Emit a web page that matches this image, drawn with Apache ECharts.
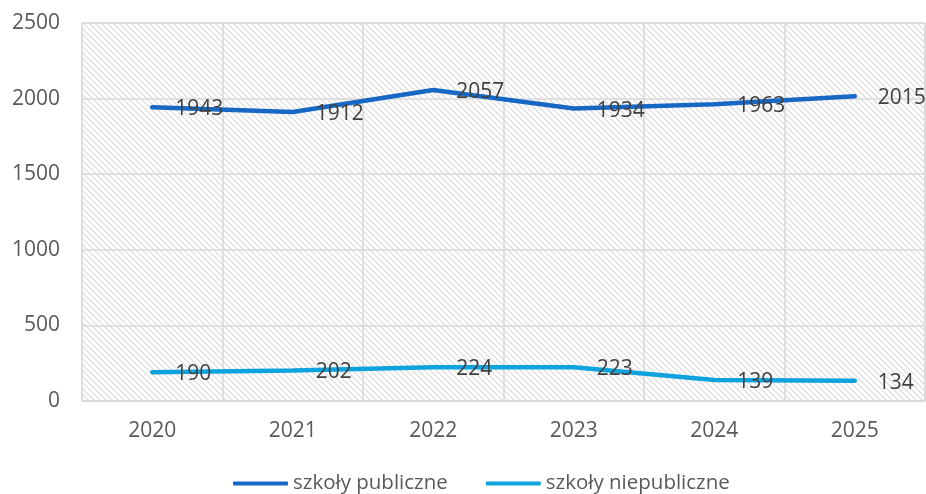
<!DOCTYPE html>
<html><head><meta charset="utf-8">
<script src="https://cdn.jsdelivr.net/npm/echarts@6/dist/echarts.min.js"></script>
<style>html,body{margin:0;padding:0;background:#fff}#c{width:926px;height:494px}</style>
</head><body><div id="c"></div>
<script>
const categories = ['2020','2021','2022','2023','2024','2025'];
const publicSchools = [1943,1912,2057,1934,1963,2015];
const nonPublicSchools = [190,202,224,223,139,134];
const seriesNames = ['szkoły publiczne','szkoły niepubliczne'];

const pc = document.createElement('canvas');
pc.width = 6; pc.height = 6;
const g = pc.getContext('2d');
g.fillStyle = '#ffffff'; g.fillRect(0,0,6,6);
g.strokeStyle = '#d9d9d9'; g.lineWidth = 1.1;
g.beginPath();
g.moveTo(-1,-1); g.lineTo(7,7);
g.moveTo(-1,5); g.lineTo(1,7);
g.moveTo(5,-1); g.lineTo(7,1);
g.stroke();

const FF = 'Open Sans';
const chart = echarts.init(document.getElementById('c'));
const lbl = {show:true, position:'right', distance:23, offset:[0,2], color:'#404040', fontSize:21, fontFamily:FF};
chart.setOption({
  animation:false,
  grid:{left:82,right:1,top:23,bottom:93,show:true,backgroundColor:{image:pc,repeat:'repeat'},borderColor:'#d9d9d9',borderWidth:1},
  xAxis:{type:'category',data:categories,boundaryGap:true,
    axisLine:{lineStyle:{color:'#d9d9d9',width:1.5}},axisTick:{show:false},
    axisLabel:{color:'#595959',fontSize:21,fontFamily:FF,margin:20},
    splitLine:{show:true,lineStyle:{color:'#d9d9d9',width:1.5}}},
  yAxis:{type:'value',min:0,max:2500,interval:500,
    axisLine:{show:false},axisTick:{show:false},
    axisLabel:{color:'#595959',fontSize:21,fontFamily:FF,margin:22,formatter:v=>String(v)},
    splitLine:{lineStyle:{color:'#d9d9d9',width:1.5}}},
  legend:{bottom:-5,left:228,itemWidth:55,itemHeight:4,itemGap:38,
    textStyle:{color:'#595959',fontSize:20.5,fontFamily:FF},
    data:[{name:seriesNames[0],icon:'roundRect'},{name:seriesNames[1],icon:'roundRect'}]},
  series:[
    {name:seriesNames[0],type:'line',data:publicSchools,showSymbol:true,symbol:'circle',symbolSize:0.01,
     lineStyle:{color:'#1668c4',width:4.5,cap:'round'},itemStyle:{color:'#1668c4'},label:lbl},
    {name:seriesNames[1],type:'line',data:nonPublicSchools,showSymbol:true,symbol:'circle',symbolSize:0.01,
     lineStyle:{color:'#0ea3dc',width:4.5,cap:'round'},itemStyle:{color:'#0ea3dc'},label:lbl}
  ]
});
</script></body></html>
